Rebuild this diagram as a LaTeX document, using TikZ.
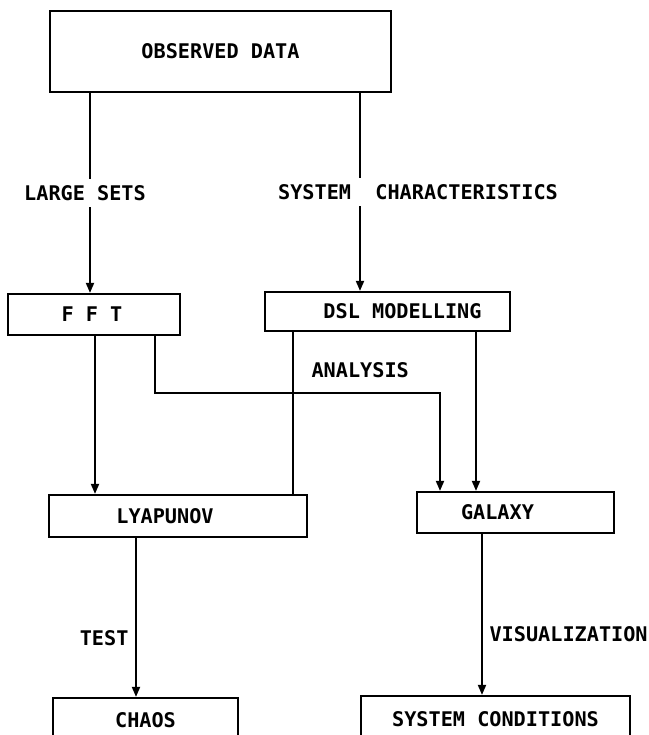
\documentclass[tikz,border=0pt]{standalone}
\usepackage{fontspec}
\setmonofont{DejaVu Sans Mono}
\usetikzlibrary{arrows.meta}

\tikzset{
  block/.style={draw, line width=1.1pt, inner sep=0pt, font=\ttfamily\bfseries\fontsize{10.1}{12}\selectfont},
  link/.style={line width=0.9pt, ->, >={Triangle[length=5pt, width=4pt]}},
  tag/.style={font=\ttfamily\bfseries\fontsize{10.1}{12}\selectfont},
}

\begin{document}
\begin{tikzpicture}[x=0.5pt, y=-0.5pt]
\path[use as bounding box, fill=white] (0,0) rectangle (649,735);

%%%%%%%%%%%%%%%%%%%
% The boxes

\node[block, minimum width=170.5pt, minimum height=40.5pt] (obs) at (220.5,51.5) {OBSERVED DATA};

\node[block, minimum width=86pt, minimum height=20.5pt] (fft) at (94,314.5) {\hspace*{-2pt}F F T};
\node[block, minimum width=122.5pt, minimum height=19.5pt] (dsl) at (387.5,311.5) {\hspace*{15pt}DSL MODELLING};

\node[block, minimum width=129pt, minimum height=21pt] (lyap) at (178,516) {\hspace*{-13pt}LYAPUNOV};
\node[block, minimum width=98.5pt, minimum height=20.5pt] (galaxy) at (515.5,512.5) {\hspace*{-18pt}GALAXY};

\node[block, minimum width=92.5pt, minimum height=22pt] (chaos) at (145.5,720) {CHAOS};
\node[block, minimum width=134.5pt, minimum height=23pt] (syscond) at (495.5,719) {SYSTEM CONDITIONS};

%%%%%%%%%%%%%%%%%%%
% The links

\draw[link] (obs.south -| 90,0) -- node[tag, fill=white, xshift=-2.5pt] {LARGE SETS} (fft.north -| 90,0);
\draw[link] (obs.south -| 360,0) -- node[tag, fill=white, xshift=29pt] {SYSTEM\ \ CHARACTERISTICS} (dsl.north -| 360,0);

\draw[link] (fft.south -| 95,0) -- (lyap.north -| 95,0);

\coordinate (bend) at (440,393);
\draw[link] (fft.south -| 155,0) |- node[tag, pos=0.86, above=4pt] {ANALYSIS} (bend) -- (galaxy.north -| bend);

\draw[line width=0.9pt] (dsl.south -| 293,0) -- (lyap.north -| 293,0);
\draw[link] (dsl.south -| 476,0) -- (galaxy.north -| 476,0);

\draw[link] (lyap.south -| 136,0) -- node[tag, left, pos=0.63] {TEST} (chaos.north -| 136,0);
\draw[link] (galaxy.south -| 482,0) -- node[tag, right, pos=0.62] {VISUALIZATION} (syscond.north -| 482,0);

\end{tikzpicture}
\end{document}
